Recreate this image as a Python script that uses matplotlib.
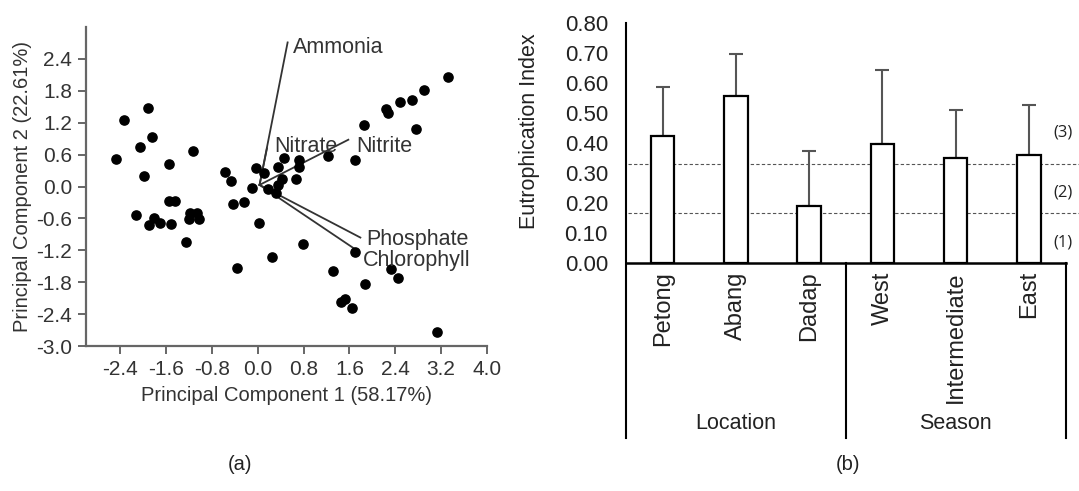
import numpy as np
import matplotlib.pyplot as plt

plt.rcParams['font.family'] = ['Liberation Sans', 'DejaVu Sans']

# (a) PCA scores
pc1 = [-1.91, -2.34, -1.84, -2.05, -2.47, -1.55, -1.13, -1.98,
       -0.57, -0.46, -0.03, 0.11, -0.10,
       -1.55, -1.45, -2.12, -1.82, -1.90, -1.71, -1.51, -1.18, -1.07, -1.20, -1.02, -1.25,
       -0.43, -0.24, 0.02, 0.25, -0.36,
       3.32, 2.90, 2.70, 2.48, 2.24, 2.28, 2.76, 1.85, 1.69, 1.23,
       0.45, 0.72, 0.72, 0.36, 0.66, 0.42, 0.35, 0.17, 0.31,
       0.78, 1.69, 1.31, 2.33, 2.44, 1.87, 1.45, 1.53, 1.65, 3.12]
pc2 = [1.47, 1.25, 0.93, 0.74, 0.51, 0.42, 0.66, 0.20,
       0.27, 0.10, 0.34, 0.25, -0.03,
       -0.28, -0.27, -0.54, -0.60, -0.72, -0.68, -0.71, -0.49, -0.49, -0.61, -0.61, -1.05,
       -0.33, -0.29, -0.69, -1.33, -1.53,
       2.06, 1.81, 1.62, 1.59, 1.45, 1.38, 1.08, 1.16, 0.49, 0.57,
       0.54, 0.49, 0.37, 0.37, 0.14, 0.15, 0.02, -0.04, -0.13,
       -1.09, -1.24, -1.59, -1.56, -1.72, -1.84, -2.17, -2.12, -2.29, -2.73]

# (a) loading vectors
variables = ['Ammonia', 'Nitrate', 'Nitrite', 'Phosphate', 'Chlorophyll']
load_x = [0.52, 0.16, 1.58, 1.79, 1.70]
load_y = [2.71, 0.72, 0.88, -0.96, -1.18]

# (b) eutrophication index
categories = ['Petong', 'Abang', 'Dadap', 'West', 'Intermediate', 'East']
groups = ['Location', 'Season']
index_mean = [0.425, 0.557, 0.19, 0.396, 0.35, 0.359]
index_err = [0.16, 0.138, 0.185, 0.246, 0.161, 0.169]
class_limits = [0.168, 0.331]
class_labels = ['(1)', '(2)', '(3)']

fig = plt.figure(figsize=(10.79, 4.91), dpi=100)

# ---------- panel (a)
ax = fig.add_axes([0.0797, 0.2953, 0.3716, 0.6497])
ax.scatter(pc1, pc2, s=44, color='black', zorder=3)
ax.set_xlim(-3.0, 4.0)
ax.set_ylim(-3.0, 3.0)
ax.set_xticks(np.arange(-2.4, 4.01, 0.8))
ax.set_yticks(np.arange(-3.0, 2.41, 0.6))
ax.xaxis.set_major_formatter(plt.FormatStrFormatter('%.1f'))
ax.yaxis.set_major_formatter(plt.FormatStrFormatter('%.1f'))
for s in ['top', 'right']:
    ax.spines[s].set_visible(False)
for s in ['left', 'bottom']:
    ax.spines[s].set_color('#666666')
    ax.spines[s].set_linewidth(1.6)
ax.tick_params(length=6, width=1.4, color='#666666', labelsize=15,
               labelcolor='#333333', pad=4)
ax.set_xlabel('Principal Component 1 (58.17%)', fontsize=14.5, color='#333333', labelpad=5)
ax.set_ylabel('Principal Component 2 (22.61%)', fontsize=14.5, color='#333333', labelpad=3)

offsets = {'Ammonia': (0.10, -0.10), 'Nitrate': (0.13, 0.04), 'Nitrite': (0.14, -0.12),
           'Phosphate': (0.11, -0.04), 'Chlorophyll': (0.13, -0.22)}
for name, lx, ly in zip(variables, load_x, load_y):
    ax.plot([0.03, lx], [0.03, ly], color='#333333', lw=1.3, zorder=2)
    dx, dy = offsets[name]
    ax.text(lx + dx, ly + dy, name, fontsize=15.5, color='#333333',
            ha='left', va='center', zorder=4)

# ---------- panel (b)
bx = fig.add_axes([0.5802, 0.4637, 0.4074, 0.490])
x = np.arange(len(categories))
bx.bar(x, index_mean, width=0.32, color='white', edgecolor='black', linewidth=1.6, zorder=3)
bx.errorbar(x, index_mean, yerr=[np.zeros(len(x)), index_err], fmt='none',
            ecolor='#555555', elinewidth=1.5, capsize=5, capthick=1.5, zorder=2)
bx.set_xlim(-0.5, 5.5)
bx.set_ylim(0, 0.80)
bx.set_yticks(np.arange(0, 0.801, 0.1))
bx.yaxis.set_major_formatter(plt.FormatStrFormatter('%.2f'))
bx.set_xticks([])
for s in ['top', 'right', 'bottom']:
    bx.spines[s].set_visible(False)
bx.spines['left'].set_linewidth(1.5)
bx.spines['left'].set_bounds(-0.58, 0.80)
bx.tick_params(axis='y', length=0, labelsize=16, pad=13, labelcolor='#222222')
bx.set_ylabel('Eutrophication Index', fontsize=15.5, color='#222222')
bx.yaxis.set_label_coords(-0.196, 0.55)

for lim in class_limits:
    bx.plot([-0.47, 5.72], [lim, lim], ls=(0, (3, 2)), color='#555555', lw=0.8,
            clip_on=False, zorder=1)
class_mid = [0.07, 0.235, 0.436]
for ymid, lab in zip(class_mid, class_labels):
    bx.text(5.47, ymid, lab, fontsize=12, color='#222222', ha='center', va='center',
            family=['Open Sans', 'DejaVu Sans'])

# baseline and group frame
bx.plot([-0.5, 5.5], [0, 0], color='black', lw=1.8, clip_on=False, zorder=4)
for xv in [2.5, 5.5]:
    bx.plot([xv, xv], [0, -0.58], color='black', lw=1.5, clip_on=False)
for xi, name in zip(x, categories):
    bx.text(xi, -0.026, name, rotation=90, ha='center', va='top', fontsize=17,
            color='#222222')
for gi, name in enumerate(groups):
    bx.text(1 + 3 * gi, -0.533, name, ha='center', va='center', fontsize=15.5,
            color='#222222')

fig.text(240 / 1079, 1 - 464 / 491, '(a)', ha='center', va='center', fontsize=14.5, color='#222222')
fig.text(848 / 1079, 1 - 464 / 491, '(b)', ha='center', va='center', fontsize=14.5, color='#222222')

fig.savefig('out.png', dpi=100)
